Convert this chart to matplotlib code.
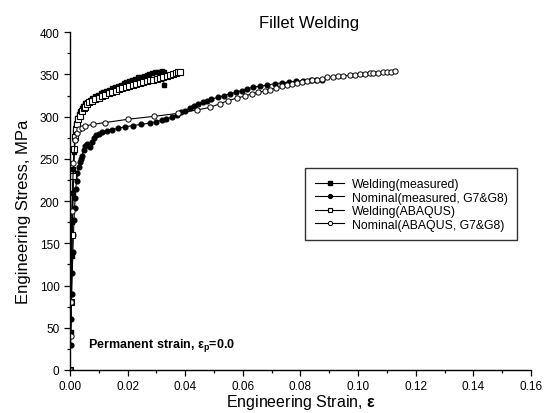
import matplotlib
matplotlib.use("Agg")
import matplotlib.pyplot as plt
from matplotlib.ticker import MultipleLocator, FormatStrFormatter

plt.rcParams['font.family'] = ['Liberation Sans', 'DejaVu Sans']
plt.rcParams['mathtext.fontset'] = 'custom'
plt.rcParams['mathtext.rm'] = 'Liberation Sans'
plt.rcParams['mathtext.it'] = 'Liberation Sans:italic'
plt.rcParams['mathtext.bf'] = 'Liberation Sans:bold'

# ---- tensile test data: engineering strain / engineering stress (MPa) ----
weld_meas_strain = [0, 0.0002, 0.0004, 0.0006, 0.0008, 0.0010, 0.0012, 0.0014, 0.0016, 0.0019,
                    0.0022, 0.0026, 0.0030, 0.0035, 0.0040, 0.0046, 0.0053, 0.0060, 0.0068, 0.0077,
                    0.0086, 0.0096, 0.0106, 0.0116, 0.0126, 0.0136, 0.0146, 0.0156, 0.0166, 0.0176,
                    0.0186, 0.0196, 0.0206, 0.0216, 0.0226, 0.0236, 0.0246, 0.0256, 0.0266, 0.0276,
                    0.0286, 0.0296, 0.0306, 0.0314, 0.0320, 0.0325, 0.0326]
weld_meas_stress = [0, 45, 90, 135, 175, 210, 238, 258, 272, 283,
                    291, 298, 303, 307, 310, 313, 316, 318, 320, 322,
                    324, 326, 327.5, 329, 330.5, 332, 333.5, 335, 336.5, 338,
                    339.5, 341, 342.5, 344, 345, 346.5, 347.5, 348.5, 349.5, 350.5,
                    351.5, 352.5, 353, 353.5, 354, 353, 337]

nom_meas_strain = [0, 0.0002, 0.0004, 0.0006, 0.0008, 0.0010, 0.0012, 0.0014, 0.0016, 0.0018,
                   0.0020, 0.0023, 0.0026, 0.0030, 0.0034, 0.0038, 0.0042, 0.0047, 0.0053, 0.0060,
                   0.0066, 0.0070, 0.0075, 0.0082, 0.0090, 0.0100, 0.0112, 0.0127, 0.0145, 0.0168,
                   0.0192, 0.0218, 0.0248, 0.0278, 0.0300, 0.0318, 0.0335, 0.0353, 0.0370, 0.0385,
                   0.0399, 0.0415, 0.0430, 0.0445, 0.0460, 0.0474, 0.0490, 0.0515, 0.0535, 0.0555,
                   0.0575, 0.0596, 0.0616, 0.0636, 0.0660, 0.0685, 0.0710, 0.0735, 0.0760, 0.0785,
                   0.0810, 0.0835, 0.0855, 0.0874]
nom_meas_stress = [0, 30, 60, 90, 115, 140, 160, 178, 192, 204,
                   214, 224, 233, 240, 246, 250, 254, 260, 265, 268,
                   266, 264, 270, 275, 278, 280, 281.5, 283, 284.5, 286.5,
                   288, 289.5, 291, 292.5, 294, 296, 297.5, 299.5, 302, 305,
                   307, 310, 312.5, 315, 317, 319, 321, 323, 325, 327,
                   329, 331, 333, 335, 336, 337.5, 339, 340, 341, 342,
                   342.5, 343, 343.5, 344]

weld_abq_strain = [0, 0.0004, 0.0008, 0.0012, 0.0015, 0.0018, 0.0021, 0.0024, 0.0029, 0.0036,
                   0.0041, 0.0047, 0.0053, 0.0058, 0.0066, 0.0076, 0.0088, 0.0100, 0.0112, 0.0123,
                   0.0135, 0.0146, 0.0158, 0.0169, 0.0181, 0.0193, 0.0205, 0.0218, 0.0230, 0.0242,
                   0.0254, 0.0266, 0.0278, 0.0289, 0.0301, 0.0312, 0.0324, 0.0336, 0.0348, 0.0359,
                   0.0368, 0.0376, 0.0382]
weld_abq_stress = [0, 80, 160, 230, 262, 276, 285, 291, 297, 301,
                   307, 310, 312, 315, 317, 318.5, 320.5, 322, 324, 325.5,
                   327.5, 329, 331, 332.5, 334, 335, 336.5, 338, 339, 340,
                   341, 342, 343, 343.5, 344.5, 345.5, 346.5, 348, 349.5, 350.5,
                   351.5, 352.5, 353]

nom_abq_strain = [0, 0.0002, 0.0003, 0.0006, 0.0012, 0.0018, 0.0025, 0.0033, 0.0041, 0.0052,
                  0.0081, 0.0121, 0.0202, 0.0293, 0.0376, 0.0440, 0.0486, 0.0521, 0.0549, 0.0579,
                  0.0607, 0.0631, 0.0654, 0.0677, 0.0694, 0.0715, 0.0735, 0.0752, 0.0770, 0.0787,
                  0.0804, 0.0822, 0.0839, 0.0856, 0.0874, 0.0891, 0.0914, 0.0931, 0.0949, 0.0972,
                  0.0989, 0.1007, 0.1024, 0.1041, 0.1053, 0.1070, 0.1087, 0.1101, 0.1113, 0.1127]
nom_abq_stress = [0, 40, 80, 188, 245, 272, 281, 285, 287, 289,
                  291, 293, 297, 300.5, 304, 308, 311, 315.5, 319, 322,
                  324.5, 327, 329, 330.5, 332, 334, 336, 338, 339, 340,
                  341.5, 342, 343, 344, 345, 346.5, 347.5, 348.5, 348.5, 349,
                  349.8, 350.5, 351, 351.8, 352, 352, 352.6, 353, 353.5, 354]

series_labels = ["Welding(measured)", "Nominal(measured, G7&G8)",
                 "Welding(ABAQUS)", "Nominal(ABAQUS, G7&G8)"]

fig = plt.figure(figsize=(5.48, 4.14), dpi=100)
ax = fig.add_axes([0.1277, 0.1039, 0.8412, 0.8157])

lw = 0.8
ax.plot(weld_meas_strain, weld_meas_stress, color='black', lw=lw, marker='s', ms=3.2,
        mfc='black', mec='black', label=series_labels[0])
ax.plot(nom_meas_strain, nom_meas_stress, color='black', lw=lw, marker='o', ms=3.4,
        mfc='black', mec='black', label=series_labels[1])
ax.plot(weld_abq_strain, weld_abq_stress, color='black', lw=lw, marker='s', ms=4.2,
        mfc='white', mec='black', mew=0.8, label=series_labels[2])
ax.plot(nom_abq_strain, nom_abq_stress, color='black', lw=lw, marker='o', ms=3.8,
        mfc='white', mec='black', mew=0.7, label=series_labels[3])

ax.set_xlim(0, 0.16)
ax.set_ylim(0, 400)
ax.xaxis.set_major_locator(MultipleLocator(0.02))
ax.xaxis.set_minor_locator(MultipleLocator(0.01))
ax.yaxis.set_major_locator(MultipleLocator(50))
ax.yaxis.set_minor_locator(MultipleLocator(25))
ax.xaxis.set_major_formatter(FormatStrFormatter('%.2f'))

for side in ('top', 'right'):
    ax.spines[side].set_visible(False)
for side in ('left', 'bottom'):
    ax.spines[side].set_linewidth(1.0)
ax.tick_params(which='major', direction='out', length=4.5, width=0.9, labelsize=8.5, pad=3)
ax.tick_params(which='minor', direction='out', length=2.5, width=0.9)

ax.set_xlabel(r"Engineering Strain, $\mathbf{\varepsilon}$", fontsize=11.5, labelpad=0)
ax.set_ylabel("Engineering Stress, MPa", fontsize=12, labelpad=6)
ax.yaxis.set_label_coords(-0.085, 0.47)
fig.text(0.564, 0.944, "Fillet Welding", ha='center', va='center', fontsize=12)

ax.text(0.04, 0.074, r"Permanent strain, $\mathbf{\varepsilon_p}$=0.0", transform=ax.transAxes,
        fontsize=9, fontweight='bold', ha='left', va='center')

leg = ax.legend(loc='upper left', bbox_to_anchor=(0.51, 0.597), fontsize=8.8,
                frameon=True, fancybox=False, shadow=False, borderaxespad=0,
                handlelength=2.4, handletextpad=0.6, labelspacing=0.12,
                borderpad=0.8, markerscale=0.8)
leg.get_frame().set_edgecolor('black')
leg.get_frame().set_linewidth(1.0)

fig.savefig("out.png", dpi=100)
